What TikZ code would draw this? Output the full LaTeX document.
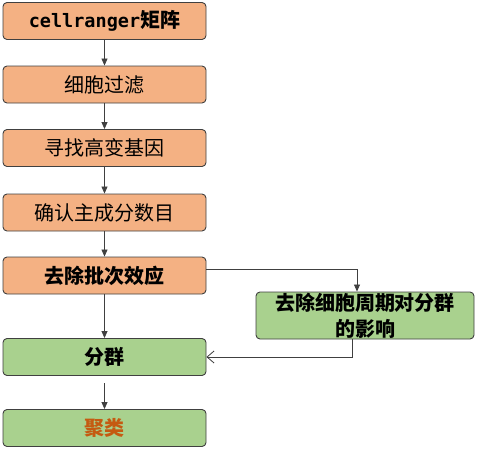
\documentclass[tikz,border=0pt]{standalone}
\usepackage{fontspec}
\setmainfont{Noto Sans CJK SC}
\newfontfamily\monofnt{DejaVu Sans Mono}
\usetikzlibrary{arrows.meta}
\definecolor{orfill}{HTML}{F4B183}
\definecolor{grfill}{HTML}{A9D18E}
\definecolor{edge}{HTML}{404040}
\definecolor{brown}{HTML}{C55A11}
\tikzset{
  box/.style={draw=edge, line width=0.9pt, rounded corners=4pt, minimum width=203pt, minimum height=37pt, inner sep=0pt, font=\fontsize{20}{24}\selectfont, text=black},
  orbox/.style={box, fill=orfill},
  grbox/.style={box, fill=grfill},
  conn/.style={draw=edge, line width=0.8pt, -{Triangle[length=7pt,width=6pt]}},
  openconn/.style={draw=edge, line width=0.8pt, -{Straight Barb[length=7pt,width=12pt]}}
}
\begin{document}
\begin{tikzpicture}[x=1pt,y=-1pt]
\useasboundingbox (0,0) rectangle (483,455);
\node[orbox] (n1) at (104.5,21) {\bfseries{\monofnt\fontsize{18.5}{22}\selectfont cellranger}矩阵};
\node[orbox] (n2) at (104.5,84.5) {细胞过滤};
\node[orbox] (n3) at (104.5,148) {寻找高变基因};
\node[orbox] (n4) at (104.5,212.5) {确认主成分数目};
\node[orbox] (n5) at (104.5,275.5) {\bfseries 去除批次效应};
\node[grbox] (n6) at (104.5,357) {\bfseries 分群};
\node[grbox] (n7) at (104.5,428) {\bfseries\color{brown}聚类};
\node[grbox, minimum width=218pt, minimum height=47pt, align=center, font=\fontsize{20}{26}\selectfont\bfseries] (r) at (365,315.5) {去除细胞周期对分群\\的影响};
\coordinate (s7) at (104.5,383);
\draw[conn] (n1) -- (n2);
\draw[conn] (n2) -- (n3);
\draw[conn] (n3) -- (n4);
\draw[conn] (n4) -- (n5);
\draw[conn] (n5) -- (n6);
\draw[conn] (s7) -- (n7);
\draw[conn] (n5.east |- 0,269) -| (r.north -| 357,0);
\draw[openconn] (r.south -| 352,0) |- (n6.east);
\end{tikzpicture}
\end{document}
